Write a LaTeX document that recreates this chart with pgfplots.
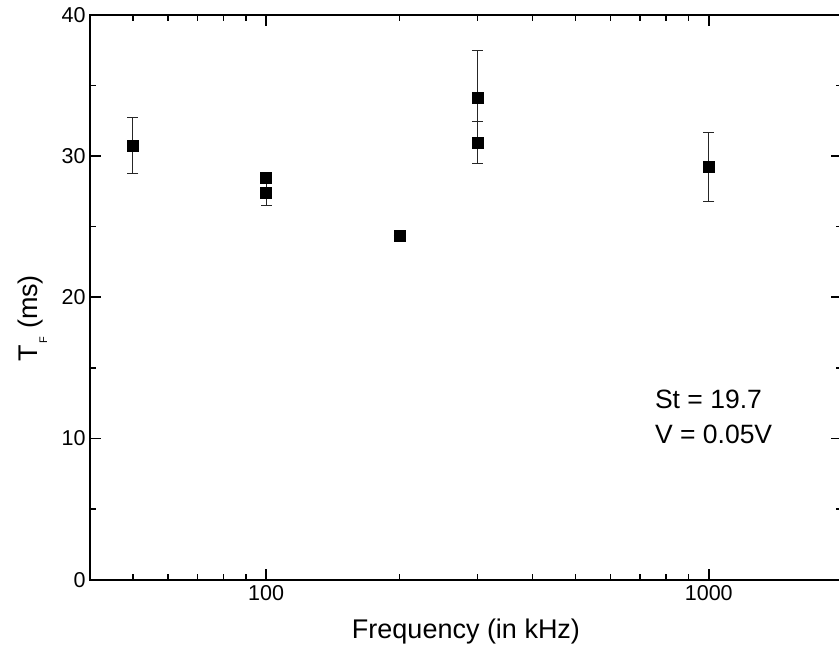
\documentclass[border=0pt]{standalone}
\usepackage{pgfplots}
\pgfplotsset{compat=1.18}
\usepackage{fontspec}
\setmainfont{Liberation Sans}
\begin{document}
\begin{tikzpicture}
\useasboundingbox (-90pt,-71.3pt) rectangle (749pt,579.7pt);
\begin{axis}[
  at={(0pt,0pt)}, anchor=south west,
  scale only axis,
  width=752pt, height=565pt,
  xmode=log, xmin=40, xmax=2000,
  ymin=0, ymax=40,
  xtick={100,1000}, xticklabels={100,1000},
  minor xtick={50,60,70,80,90,200,300,400,500,600,700,800,900,2000},
  ytick={0,10,20,30,40},
  minor ytick={5,15,25,35},
  tick align=inside,
  major tick length=11pt, minor tick length=6pt,
  axis line style={line width=2pt},
  every tick/.style={line width=1.5pt, black},
  every minor tick/.style={line width=1.5pt, black},
  /pgf/number format/assume math mode=true,
  tick label style={font=\fontsize{21.5}{25}\selectfont},
  xticklabel style={yshift=-2pt},
  yticklabel style={xshift=-1pt},
  xlabel={Frequency (in kHz)},
  ylabel={T\hspace{1.5pt}\raisebox{-10pt}{\fontsize{11}{11}\selectfont F} (ms)},
  label style={font=\fontsize{27}{30}\selectfont},
  xlabel style={at={(axis description cs:0.5,0)}, anchor=north, yshift=-36pt},
  ylabel style={at={(axis description cs:0,0.463)}, anchor=base, inner sep=0pt, yshift=53pt},
]
\addplot+[only marks, mark=square*, mark size=5.5pt, black,
  mark options={fill=black, draw=black, line width=0.5pt},
  error bars/.cd, y dir=both, y explicit,
  error bar style={line width=1pt, color=black!85},
  error mark options={rotate=90, mark size=5.5pt, line width=1pt, color=black!85}]
  table[x=x, y=y, y error=e] {
x y e
50 30.75 1.97
100 28.46 0
100 27.40 0.9
200 24.38 0
300 34.15 3.3
300 30.94 1.5
1000 29.24 2.45
};
\node[anchor=north west, inner sep=0pt]
  at (axis cs:755.5,13.89) {\fontsize{26.5}{35}\selectfont\begin{tabular}{@{}l@{}}St = 19.7\\V = 0.05V\end{tabular}};
\end{axis}
\end{tikzpicture}
\end{document}
